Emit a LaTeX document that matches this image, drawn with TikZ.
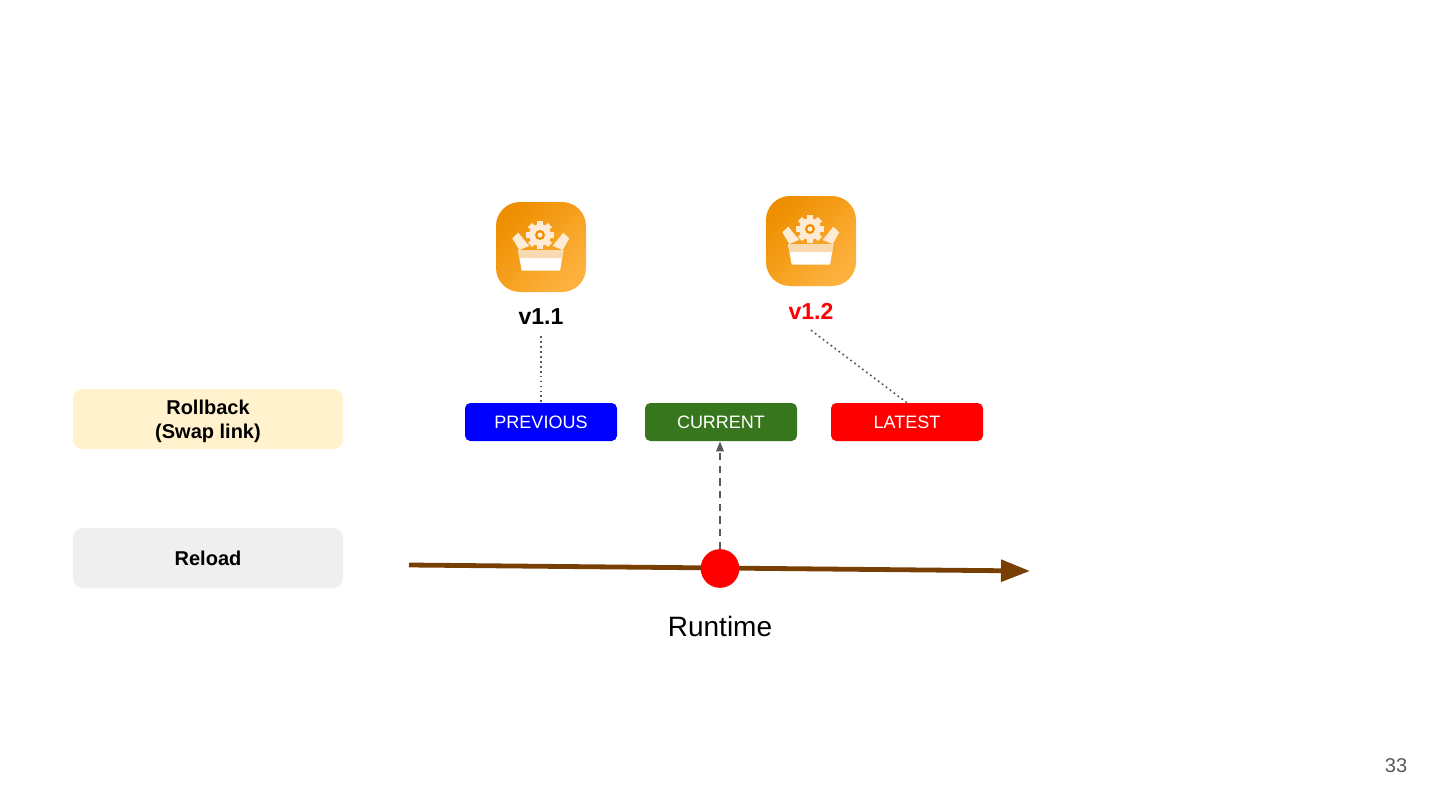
\documentclass[tikz,border=0pt]{standalone}
\usepackage{fontspec}
\setmainfont{Liberation Sans}
\usetikzlibrary{arrows.meta}
\definecolor{runbrown}{HTML}{783F04}
\definecolor{curgreen}{HTML}{38761D}
\definecolor{linkgray}{HTML}{595959}
\definecolor{rollcream}{HTML}{FFF2CC}
\definecolor{reloadgray}{HTML}{EFEFEF}
\definecolor{iconlight}{HTML}{FDEBD5}
\definecolor{iconband}{HTML}{F9D9B0}
\definecolor{icondark}{HTML}{EF8F00}
\definecolor{iconpale}{HTML}{FDB23F}
\tikzset{
  tagbox/.style={draw=none,rounded corners=4pt,minimum width=114pt,minimum height=28.5pt,inner sep=0pt,text=white,font=\fontsize{13.5}{16}\selectfont},
  sidebox/.style={draw=none,rounded corners=7pt,minimum width=202.5pt,minimum height=45pt,inner sep=0pt,align=center,font=\fontsize{15}{18}\selectfont\bfseries},
  iconbox/.style={draw=none,rounded corners=18pt,minimum size=67.5pt,inner sep=0pt,left color=icondark,right color=iconpale,shading angle=45},
  versionlabel/.style={minimum height=28.5pt,inner sep=0pt,font=\fontsize{17.3}{20}\selectfont\bfseries},
  dotlink/.style={draw=linkgray,line width=1.2pt,dash pattern=on 1.3pt off 2.4pt},
  pics/pkgglyph/.style={code={
    \fill[iconlight] (-28.7,-8.7) -- (-22.7,-14.3) -- (-11.7,-1) -- (-21.7,3) -- cycle;
    \fill[iconlight] (28.3,-8.7) -- (22.3,-14.3) -- (11.7,-1) -- (21.7,3) -- cycle;
    \foreach \a in {0,45,...,315} \fill[iconlight,rotate around={\a:(-1,-12)}] (-4,-26) rectangle (2,-18);
    \fill[iconlight] (-1,-12) circle (11);
    \fill[icondark] (-1,-12) circle (5);
    \fill[iconlight] (-1,-12) circle (2.5);
    \fill[white] (-23,3) -- (22.5,3) -- (19,23.7) -- (-19.3,23.7) -- cycle;
    \fill[iconband] (-23,3) -- (22.5,3) -- (21.2,11) -- (-21.7,11) -- cycle;
  }}
}
\begin{document}
\begin{tikzpicture}[x=0.75pt,y=-0.75pt]
\useasboundingbox (0,0) rectangle (1440,810);
% package icons
\node[iconbox] (iconprev) at (541,247) {};
\node[iconbox] (iconlate) at (811,241) {};
\pic at (iconprev.center) {pkgglyph};
\pic at (iconlate.center) {pkgglyph};
\node[versionlabel] (vprev) at (541,317) {v1.1};
\node[versionlabel,text=red] (vlate) at (811,311) {v1.2};
% link tags
\node[tagbox,fill=blue] (previous) at (541,422) {PREVIOUS};
\node[tagbox,fill=curgreen] (current) at (721,422) {CURRENT};
\node[tagbox,fill=red] (latest) at (907,422) {LATEST};
\draw[dotlink] (vprev.south) -- (previous.north);
\draw[dotlink] (vlate.south) -- (latest.north);
% left column
\node[sidebox,fill=rollcream] (rollback) at (208,419) {\rule{0pt}{14.8pt}Rollback\\(Swap link)};
\node[sidebox,fill=reloadgray] (reload) at (208,558) {Reload};
% time line
\coordinate (runstart) at (409,565);
\coordinate (runend) at (1030,571);
\draw[runbrown,line width=3.6pt,-{Triangle[length=21.75pt,width=16pt]}] (runstart) -- (runend);
\node[circle,fill=red,minimum size=29pt,inner sep=0pt] (rundot) at (720,568.5) {};
\draw[linkgray,line width=1.6pt,dash pattern=on 5.5pt off 4pt,-{Triangle[length=7.5pt,width=5.5pt]}] (rundot.north) -- (current.south -| rundot.north);
\node[font=\fontsize{21}{24}\selectfont] (runlabel) at (720,626) {Runtime};
\node[font=\fontsize{15}{18}\selectfont,text=linkgray] (pagenum) at (1396,766) {33};
\end{tikzpicture}
\end{document}
